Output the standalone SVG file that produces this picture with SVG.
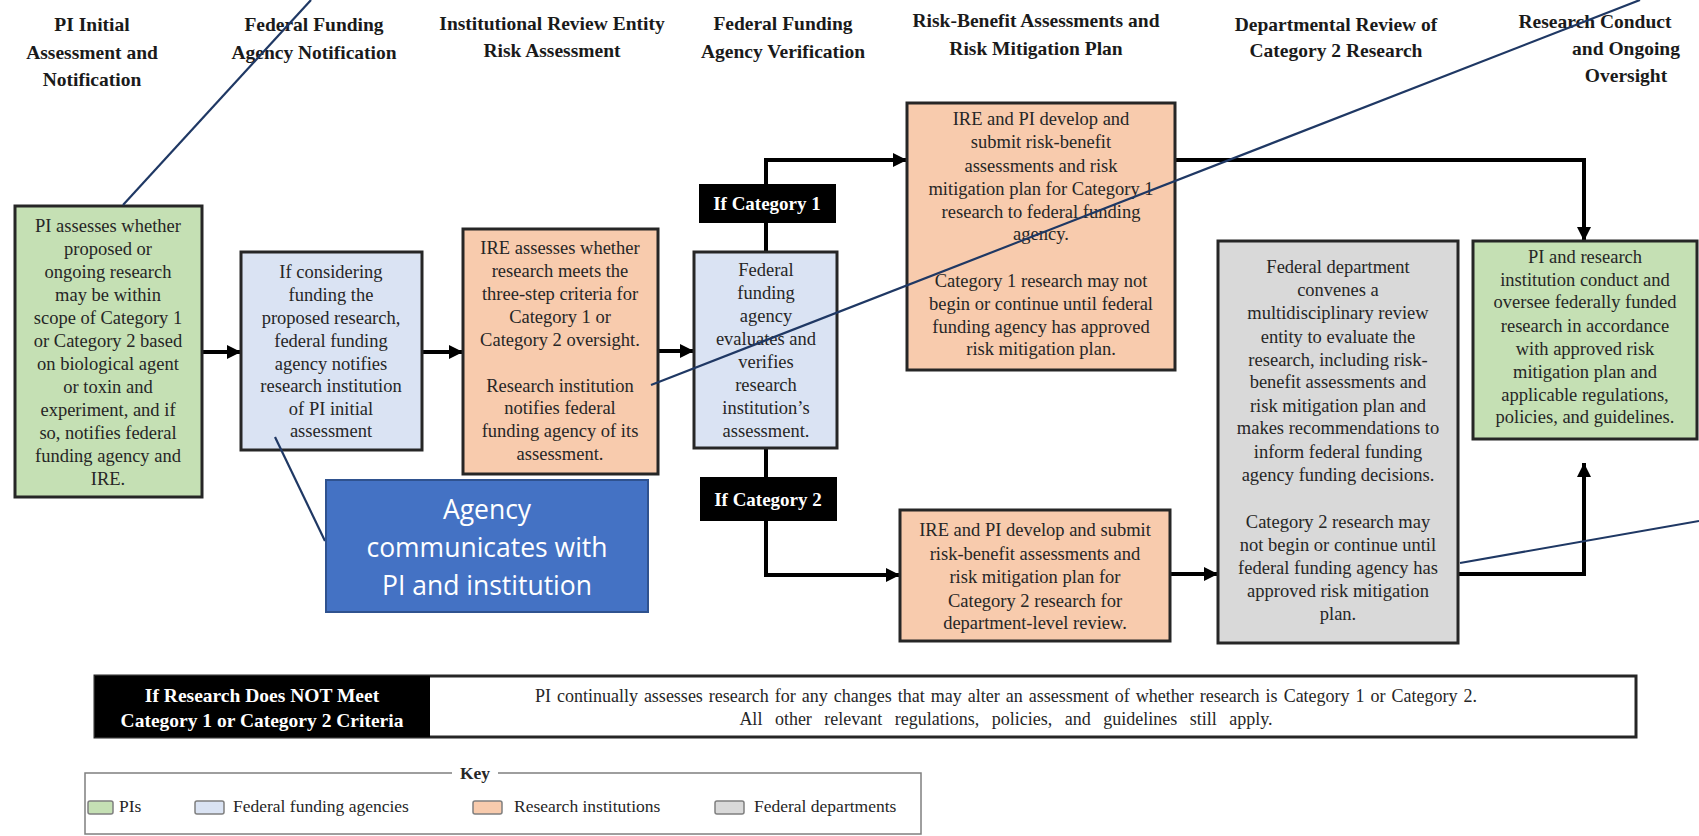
<svg xmlns="http://www.w3.org/2000/svg" width="1699" height="836" viewBox="0 0 1699 836">
<style>
.hdr{font-family:"Liberation Serif","Times New Roman",serif;font-weight:bold;font-size:19.5px;fill:#1a1a1a;text-anchor:middle}
.box{stroke:#262626;stroke-width:3}
.pi{fill:#C5E0B4}.ffa{fill:#DAE3F3}.ri{fill:#F8CBAD}.fd{fill:#D9D9D9}
.bt{font-family:"Liberation Serif","Times New Roman",serif;font-size:18.5px;fill:#262626;text-anchor:middle}
.lbl{fill:#000}
.lt{font-family:"Liberation Serif","Times New Roman",serif;font-weight:bold;font-size:19px;fill:#fff;text-anchor:middle}
.con{fill:none;stroke:#000;stroke-width:4}
.ann{stroke:#1F3864;stroke-width:2.2;fill:none}
.kt{font-family:"Liberation Serif","Times New Roman",serif;font-size:17.5px;fill:#262626}
.sw{stroke:#7f7f7f;stroke-width:1.5}
</style>
<defs>
<marker id="arr" markerUnits="userSpaceOnUse" markerWidth="14" markerHeight="14" viewBox="0 0 10 10" refX="10" refY="5" orient="auto">
<path d="M0,0 L10,5 L0,10 z" fill="#000"/>
</marker>
</defs>
<rect width="1699" height="836" fill="#fff"/>

<g id="headers">
<text class="hdr"><tspan x="92" y="31">PI Initial</tspan><tspan x="92" y="59">Assessment and</tspan><tspan x="92" y="86">Notification</tspan></text>
<text class="hdr"><tspan x="314" y="31">Federal Funding</tspan><tspan x="314" y="59">Agency Notification</tspan></text>
<text class="hdr"><tspan x="552" y="30">Institutional Review Entity</tspan><tspan x="552" y="57">Risk Assessment</tspan></text>
<text class="hdr"><tspan x="783" y="30">Federal Funding</tspan><tspan x="783" y="58">Agency Verification</tspan></text>
<text class="hdr"><tspan x="1036" y="27">Risk-Benefit Assessments and</tspan><tspan x="1036" y="55">Risk Mitigation Plan</tspan></text>
<text class="hdr"><tspan x="1336" y="31">Departmental Review of</tspan><tspan x="1336" y="57">Category 2 Research</tspan></text>
<text class="hdr"><tspan x="1595" y="28">Research Conduct</tspan><tspan x="1626" y="55">and Ongoing</tspan><tspan x="1626" y="82">Oversight</tspan></text>
</g>

<g id="connectors">
<line class="con" x1="202" y1="352" x2="241" y2="352" marker-end="url(#arr)"/>
<line class="con" x1="422" y1="352" x2="463" y2="352" marker-end="url(#arr)"/>
<line class="con" x1="658" y1="351" x2="694" y2="351" marker-end="url(#arr)"/>
<polyline class="con" points="766,252 766,160 907,160" marker-end="url(#arr)"/>
<polyline class="con" points="766,448 766,575 900,575" marker-end="url(#arr)"/>
<line class="con" x1="1170" y1="574" x2="1218" y2="574" marker-end="url(#arr)"/>
<polyline class="con" points="1175,160 1584,160 1584,241" marker-end="url(#arr)"/>
<polyline class="con" points="1458,574 1584,574 1584,463" marker-end="url(#arr)"/>
</g>

<g id="n1">
<rect class="box pi" x="15" y="206" width="187" height="291"/>
<text class="bt"><tspan x="108" y="232">PI assesses whether</tspan><tspan x="108" y="255">proposed or</tspan><tspan x="108" y="278">ongoing research</tspan><tspan x="108" y="301">may be within</tspan><tspan x="108" y="324">scope of Category 1</tspan><tspan x="108" y="347">or Category 2 based</tspan><tspan x="108" y="370">on biological agent</tspan><tspan x="108" y="393">or toxin and</tspan><tspan x="108" y="416">experiment, and if</tspan><tspan x="108" y="439">so, notifies federal</tspan><tspan x="108" y="462">funding agency and</tspan><tspan x="108" y="485">IRE.</tspan></text>
</g>

<g id="n2">
<rect class="box ffa" x="241" y="252" width="181" height="198"/>
<text class="bt"><tspan x="331" y="278">If considering</tspan><tspan x="331" y="301">funding the</tspan><tspan x="331" y="324">proposed research,</tspan><tspan x="331" y="347">federal funding</tspan><tspan x="331" y="370">agency notifies</tspan><tspan x="331" y="392">research institution</tspan><tspan x="331" y="415">of PI initial</tspan><tspan x="331" y="437">assessment</tspan></text>
</g>

<g id="n3">
<rect class="box ri" x="463" y="229" width="195" height="245"/>
<text class="bt"><tspan x="560" y="254">IRE assesses whether</tspan><tspan x="560" y="277">research meets the</tspan><tspan x="560" y="300">three-step criteria for</tspan><tspan x="560" y="323">Category 1 or</tspan><tspan x="560" y="346">Category 2 oversight.</tspan><tspan x="560" y="392">Research institution</tspan><tspan x="560" y="414">notifies federal</tspan><tspan x="560" y="437">funding agency of its</tspan><tspan x="560" y="460">assessment.</tspan></text>
</g>

<g id="n4">
<rect class="box ffa" x="694" y="252" width="143" height="196"/>
<text class="bt"><tspan x="766" y="276">Federal</tspan><tspan x="766" y="299">funding</tspan><tspan x="766" y="322">agency</tspan><tspan x="766" y="345">evaluates and</tspan><tspan x="766" y="368">verifies</tspan><tspan x="766" y="391">research</tspan><tspan x="766" y="414">institution’s</tspan><tspan x="766" y="437">assessment.</tspan></text>
</g>

<g id="lbl1">
<rect class="lbl" x="699" y="184" width="137" height="39"/>
<text class="lt" x="767" y="210">If Category 1</text>
</g>
<g id="lbl2">
<rect class="lbl" x="700" y="477" width="137" height="44"/>
<text class="lt" x="768" y="506">If Category 2</text>
</g>

<g id="n5">
<rect class="box ri" x="907" y="103" width="268" height="267"/>
<text class="bt"><tspan x="1041" y="125">IRE and PI develop and</tspan><tspan x="1041" y="148">submit risk-benefit</tspan><tspan x="1041" y="172">assessments and risk</tspan><tspan x="1041" y="195">mitigation plan for Category 1</tspan><tspan x="1041" y="218">research to federal funding</tspan><tspan x="1041" y="240">agency.</tspan><tspan x="1041" y="287">Category 1 research may not</tspan><tspan x="1041" y="310">begin or continue until federal</tspan><tspan x="1041" y="333">funding agency has approved</tspan><tspan x="1041" y="355">risk mitigation plan.</tspan></text>
</g>

<g id="n6">
<rect class="box ri" x="900" y="510" width="270" height="131"/>
<text class="bt"><tspan x="1035" y="536">IRE and PI develop and submit</tspan><tspan x="1035" y="560">risk-benefit assessments and</tspan><tspan x="1035" y="583">risk mitigation plan for</tspan><tspan x="1035" y="607">Category 2 research for</tspan><tspan x="1035" y="629">department-level review.</tspan></text>
</g>

<g id="n7">
<rect class="box fd" x="1218" y="241" width="240" height="402"/>
<text class="bt"><tspan x="1338" y="273">Federal department</tspan><tspan x="1338" y="296">convenes a</tspan><tspan x="1338" y="319">multidisciplinary review</tspan><tspan x="1338" y="343">entity to evaluate the</tspan><tspan x="1338" y="366">research, including risk-</tspan><tspan x="1338" y="388">benefit assessments and</tspan><tspan x="1338" y="412">risk mitigation plan and</tspan><tspan x="1338" y="434">makes recommendations to</tspan><tspan x="1338" y="458">inform federal funding</tspan><tspan x="1338" y="481">agency funding decisions.</tspan><tspan x="1338" y="528">Category 2 research may</tspan><tspan x="1338" y="551">not begin or continue until</tspan><tspan x="1338" y="574">federal funding agency has</tspan><tspan x="1338" y="597">approved risk mitigation</tspan><tspan x="1338" y="620">plan.</tspan></text>
</g>

<g id="n8">
<rect class="box pi" x="1473" y="241" width="224" height="198"/>
<text class="bt"><tspan x="1585" y="263">PI and research</tspan><tspan x="1585" y="286">institution conduct and</tspan><tspan x="1585" y="308">oversee federally funded</tspan><tspan x="1585" y="332">research in accordance</tspan><tspan x="1585" y="355">with approved risk</tspan><tspan x="1585" y="378">mitigation plan and</tspan><tspan x="1585" y="401">applicable regulations,</tspan><tspan x="1585" y="423">policies, and guidelines.</tspan></text>
</g>

<g id="notmeet">
<rect x="95" y="676" width="1541" height="61" fill="#fff" stroke="#262626" stroke-width="3"/>
<rect x="95" y="676" width="335" height="61" fill="#000"/>
<text class="lt" style="font-size:19.5px"><tspan x="262" y="702">If Research Does NOT Meet</tspan><tspan x="262" y="727">Category 1 or Category 2 Criteria</tspan></text>
<text class="bt" style="font-size:18px"><tspan x="1006" y="702" word-spacing="1.5">PI continually assesses research for any changes that may alter an assessment of whether research is Category 1 or Category 2.</tspan><tspan x="1006" y="725" word-spacing="8">All other relevant regulations, policies, and guidelines still apply.</tspan></text>
</g>

<g id="key">
<rect x="85" y="773" width="836" height="61" fill="#fff" stroke="#7f7f7f" stroke-width="1.5"/>
<rect x="452" y="764" width="46" height="18" fill="#fff"/>
<text class="kt" x="475" y="779" text-anchor="middle" font-weight="bold">Key</text>
<rect class="sw pi" x="88" y="801" width="25" height="13" rx="2"/>
<text class="kt" x="119" y="812">PIs</text>
<rect class="sw ffa" x="195" y="801" width="29" height="13" rx="2"/>
<text class="kt" x="233" y="812">Federal funding agencies</text>
<rect class="sw ri" x="473" y="801" width="29" height="13" rx="2"/>
<text class="kt" x="514" y="812">Research institutions</text>
<rect class="sw fd" x="715" y="801" width="29" height="13" rx="2"/>
<text class="kt" x="754" y="812">Federal departments</text>
</g>

<g id="annotations">
<line class="ann" x1="123" y1="205" x2="311" y2="0"/>
<line class="ann" x1="275" y1="437" x2="325" y2="541"/>
<line class="ann" x1="651" y1="385" x2="1640" y2="0"/>
<line class="ann" x1="1460" y1="563" x2="1699" y2="521"/>
</g>

<g id="callout">
<rect x="326" y="480" width="322" height="132" fill="#4472C4" stroke="#2F528F" stroke-width="2"/>
<text font-family="'Open Sans','Noto Sans',sans-serif" font-size="26.5" fill="#fff" text-anchor="middle"><tspan x="487" y="519">Agency</tspan><tspan x="487" y="557">communicates with</tspan><tspan x="487" y="595">PI and institution</tspan></text>
</g>
</svg>
